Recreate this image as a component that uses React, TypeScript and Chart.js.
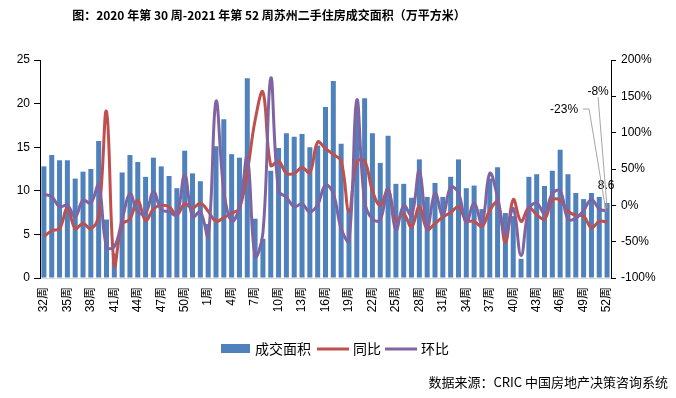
import React, { useEffect, useRef } from 'react';
import { Chart, registerables } from 'chart.js';

Chart.register(...registerables);

const weeks: string[] = [
  '32周', '33周', '34周', '35周', '36周', '37周', '38周', '39周', '40周', '41周', '42周',
  '43周', '44周', '45周', '46周', '47周', '48周', '49周', '50周', '51周', '52周',
  '1周', '2周', '3周', '4周', '5周', '6周', '7周', '8周', '9周', '10周', '11周', '12周',
  '13周', '14周', '15周', '16周', '17周', '18周', '19周', '20周', '21周', '22周', '23周',
  '24周', '25周', '26周', '27周', '28周', '29周', '30周', '31周', '32周', '33周', '34周',
  '35周', '36周', '37周', '38周', '39周', '40周', '41周', '42周', '43周', '44周', '45周',
  '46周', '47周', '48周', '49周', '50周', '51周', '52周',
];

// 成交面积（万平方米）
const area: number[] = [
  12.8, 14.1, 13.5, 13.5, 11.4, 12.2, 12.5, 15.7, 6.7, 2.8, 12.1,
  14.1, 13.3, 11.6, 13.8, 12.8, 11.7, 10.3, 14.6, 12.0, 11.1,
  6.2, 15.1, 18.2, 14.2, 13.8, 22.9, 6.8, 4.5, 12.3, 14.9, 16.6, 16.2,
  16.5, 15.0, 15.2, 19.6, 22.6, 15.4, 8.0, 19.5, 20.6, 16.6, 13.2,
  16.3, 10.8, 10.8, 9.2, 13.6, 9.3, 10.9, 9.3, 11.6, 13.6, 10.3,
  10.6, 7.9, 11.4, 12.7, 7.45, 7.1, 2.2, 11.6, 11.9, 10.55, 12.3,
  14.7, 11.9, 9.75, 9.05, 9.75, 9.3, 8.6,
];

// 同比（%）
const yoy: number[] = [
  -43, -35, -32, -4, -32, -25, -32, -14, 129, -83, -26,
  -19, 7, -21, -5, 0, -2, -13, 2, -4, 3,
  -8, -22, -17, -11, -4, 46, 117, 156, 55, 61, 44, 44,
  52, 45, 87, 78, 70, 61, -8, 60, 61, 20, 0,
  22, -21, -12, -30, -2, -33, -25, -16, -10, -2, -21,
  -22, -29, -7, 4, -51, 8, -22, -3, -13, -19, 7,
  7, -8, -14, -15, -31, -22, -23,
];

// 环比（%）
const mom: number[] = [
  15, 12, -2, 0, -16, 7, 3, 28, -57, -57, -20,
  16, -9, -11, 19, -6, -9, -13, 42, -16, -9,
  -43, 143, 20, -22, -3, 66, -70, -38, 175, 20, 11, -2,
  2, -9, 1, 28, 16, -32, -49, 145, 5, -19, -20,
  23, -34, 0, -14, 48, -32, 17, -14, 25, 17, -24,
  3, -25, 44, 11, -41, -4, -69, -5, 3, -11, 16,
  20, -19, -18, -7, 8, -5, -8,
];

const leftMax = 25;
const rightMin = -100;
const rightMax = 200;

const titleText = '图：2020 年第 30 周-2021 年第 52 周苏州二手住房成交面积（万平方米）';
const sourceText = '数据来源：CRIC 中国房地产决策咨询系统';
const seriesNames = ['成交面积', '同比', '环比'];
const colors = ['#4f81bd', '#c0504d', '#8064a2'];

const NUM_FONT = '"Liberation Sans", "Noto Sans CJK SC", sans-serif';
const CJK_FONT = '"Noto Sans CJK SC", "Liberation Sans", sans-serif';

const overlayPlugin = {
  id: 'overlay',
  afterDatasetsDraw(chart: any) {
    const ctx = chart.ctx as CanvasRenderingContext2D;
    const n = area.length - 1;
    const bp = chart.getDatasetMeta(0).data[n];
    const rp = chart.getDatasetMeta(1).data[n];
    const pp = chart.getDatasetMeta(2).data[n];
    ctx.save();
    ctx.fillStyle = '#000';
    ctx.font = '12px ' + NUM_FONT;
    ctx.textBaseline = 'middle';
    ctx.textAlign = 'center';
    ctx.fillText(String(area[n]), bp.x - 1, bp.y - 17);

    ctx.strokeStyle = '#a6a6a6';
    ctx.lineWidth = 1;
    // red leader
    ctx.beginPath();
    ctx.moveTo(rp.x - 24, rp.y - 113);
    ctx.lineTo(rp.x - 18, rp.y - 113);
    ctx.lineTo(rp.x - 1, rp.y - 10);
    ctx.stroke();
    // purple leader
    ctx.beginPath();
    ctx.moveTo(pp.x - 9, pp.y - 114);
    ctx.lineTo(pp.x, pp.y - 3);
    ctx.stroke();

    ctx.textAlign = 'right';
    ctx.fillText(Math.round(yoy[n]) + '%', rp.x - 29, rp.y - 112);
    ctx.textAlign = 'center';
    ctx.fillText(Math.round(mom[n]) + '%', pp.x - 9, pp.y - 119);
    ctx.restore();
  },
  afterDraw(chart: any) {
    const ctx = chart.ctx as CanvasRenderingContext2D;
    ctx.save();
    // title
    ctx.fillStyle = '#000';
    ctx.font = 'bold 12px ' + CJK_FONT;
    ctx.textAlign = 'center';
    ctx.textBaseline = 'middle';
    ctx.fillText(titleText, 269, 15);

    // legend
    const ly = 349;
    ctx.font = '14px ' + CJK_FONT;
    ctx.textAlign = 'left';
    ctx.fillStyle = colors[0];
    ctx.fillRect(221, ly - 5, 29, 9);
    ctx.fillStyle = '#000';
    ctx.fillText(seriesNames[0], 255, ly);
    ctx.lineWidth = 3;
    ctx.strokeStyle = colors[1];
    ctx.beginPath();
    ctx.moveTo(317, ly);
    ctx.lineTo(349, ly);
    ctx.stroke();
    ctx.fillText(seriesNames[1], 353, ly);
    ctx.strokeStyle = colors[2];
    ctx.beginPath();
    ctx.moveTo(385, ly);
    ctx.lineTo(417, ly);
    ctx.stroke();
    ctx.fillText(seriesNames[2], 421, ly);

    // source
    ctx.font = '13px ' + CJK_FONT;
    ctx.textAlign = 'right';
    ctx.fillText(sourceText, 668, 382);
    ctx.restore();
  },
};

export default function App() {
  const ref = useRef<HTMLCanvasElement | null>(null);
  useEffect(() => {
    if (!ref.current) return;
    const chart = new Chart(ref.current, {
      type: 'bar',
      data: {
        labels: weeks,
        datasets: [
          {
            type: 'bar',
            label: seriesNames[0],
            data: area,
            backgroundColor: colors[0],
            borderWidth: 0,
            barPercentage: 0.64,
            categoryPercentage: 1,
            yAxisID: 'y',
            order: 2,
          },
          {
            type: 'line',
            label: seriesNames[1],
            data: yoy,
            borderColor: colors[1],
            backgroundColor: colors[1],
            borderWidth: 3,
            pointRadius: 0,
            tension: 0.4,
            yAxisID: 'y1',
            order: 1,
          },
          {
            type: 'line',
            label: seriesNames[2],
            data: mom,
            borderColor: colors[2],
            backgroundColor: colors[2],
            borderWidth: 3,
            pointRadius: 0,
            tension: 0.4,
            yAxisID: 'y1',
            order: 0,
          },
        ] as any,
      },
      options: {
        responsive: false,
        animation: false,
        devicePixelRatio: 1,
        layout: { padding: { top: 60, left: 0, right: 0, bottom: 0 } },
        plugins: {
          legend: { display: false },
          title: { display: false },
          tooltip: { enabled: false },
        },
        scales: {
          x: {
            type: 'category',
            offset: true,
            grid: { display: false, drawTicks: false },
            border: { display: true, color: '#d9d9d9', width: 1 },
            ticks: {
              autoSkip: false,
              maxRotation: 90,
              minRotation: 90,
              padding: 9,
              color: '#000',
              font: { size: 12, family: NUM_FONT },
              callback: (_v: any, i: number) => (i % 3 === 0 ? weeks[i] : ''),
            },
            afterFit: (s: any) => {
              s.height = 120;
            },
          },
          y: {
            position: 'left',
            min: 0,
            max: leftMax,
            grid: { display: true, drawOnChartArea: false, drawTicks: true, tickLength: 6, color: '#000' },
            border: { display: true, color: '#000', width: 1 },
            ticks: { stepSize: 5, padding: 4, color: '#000', font: { size: 12, family: NUM_FONT } },
            afterFit: (s: any) => {
              s.width = 40;
            },
          },
          y1: {
            position: 'right',
            min: rightMin,
            max: rightMax,
            grid: { display: true, drawOnChartArea: false, drawTicks: true, tickLength: 5, color: '#000' },
            border: { display: true, color: '#000', width: 1 },
            ticks: {
              stepSize: 50,
              padding: 5,
              color: '#000',
              font: { size: 12, family: NUM_FONT },
              callback: (v: any) => v + '%',
            },
            afterFit: (s: any) => {
              s.width = 65;
            },
          },
        },
      } as any,
      plugins: [overlayPlugin],
    });
    return () => chart.destroy();
  }, []);
  return (
    <div style={{ position: 'absolute', left: 0, top: 0, width: 676, height: 398, background: '#fff' }}>
      <canvas ref={ref} width={676} height={398} style={{ width: 676, height: 398, display: 'block' }} />
    </div>
  );
}
